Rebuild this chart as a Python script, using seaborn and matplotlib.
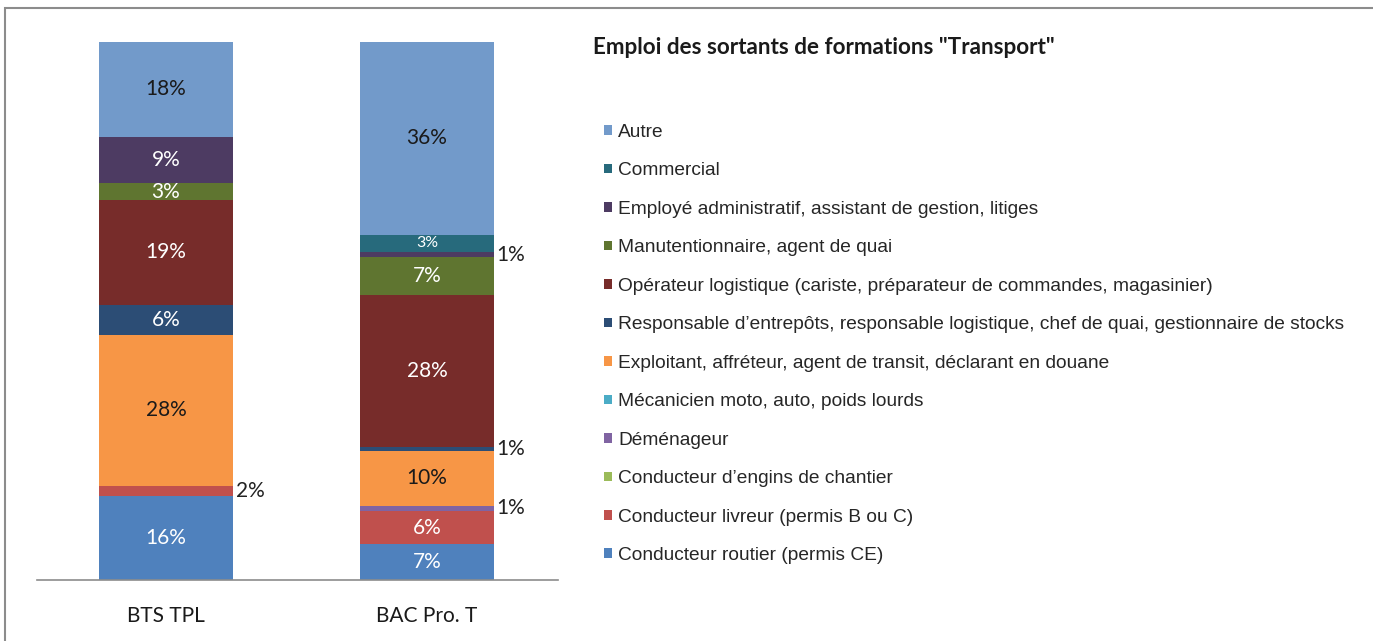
import numpy as np
import pandas as pd
import seaborn as sns
import matplotlib.pyplot as plt
from matplotlib.patches import Patch, Rectangle

# categories (bars) and job groups, stacked bottom -> top
formations = ['BTS TPL', 'BAC Pro. T']
jobs = ['Conducteur routier (permis CE)',
        'Conducteur livreur (permis B ou C)',
        'Conducteur d\u2019engins de chantier',
        'D\u00e9m\u00e9nageur',
        'M\u00e9canicien moto, auto, poids lourds',
        'Exploitant, affr\u00e9teur, agent de transit, d\u00e9clarant en douane',
        'Responsable d\u2019entrep\u00f4ts, responsable logistique, chef de quai, gestionnaire de stocks',
        'Op\u00e9rateur logistique (cariste, pr\u00e9parateur de commandes, magasinier)',
        'Manutentionnaire, agent de quai',
        'Employ\u00e9 administratif, assistant de gestion, litiges',
        'Commercial',
        'Autre']
bts_tpl = [15.6, 1.9, 0, 0, 0, 28.1, 5.6, 19.4, 3.2, 8.6, 0, 17.6]
bac_pro = [6.6, 6.3, 0, 0.9, 0, 10.2, 0.8, 28.1, 7.2, 0.8, 3.3, 35.8]
colors = ['#4F81BD', '#C0504D', '#9BBB59', '#8064A2', '#4BACC6', '#F79646',
          '#2C4D75', '#772C2A', '#5F7530', '#4D3B62', '#276A7C', '#729ACA']
dark_text = ['Autre', jobs[5]]

df = pd.DataFrame({'BTS TPL': bts_tpl, 'BAC Pro. T': bac_pro}, index=jobs)

sns.set_style('white')
plt.rcParams['font.family'] = ['Lato', 'DejaVu Sans']

fig = plt.figure(figsize=(13.73, 6.41), dpi=100)
ax = fig.add_axes([37 / 1373, 61 / 641, 521 / 1373, 538 / 641])

W = 0.513
bottom = np.zeros(len(formations))
for job, col in zip(jobs, colors):
    vals = df.loc[job, formations].values
    sns.barplot(x=formations, y=vals, bottom=bottom, color=col, width=W,
                errorbar=None, ax=ax, saturation=1, linewidth=0)
    for i, v in enumerate(vals):
        if v <= 0:
            continue
        mid = bottom[i] + v / 2
        lbl = f'{round(v)}%'
        if v < 2.5:
            ax.annotate(lbl, (i + W / 2, mid), xytext=(2, 0), textcoords='offset points',
                        ha='left', va='center', fontsize=15, color='#222222')
        else:
            fs = 11.5 if job == 'Commercial' else 15
            tc = '#1a1a1a' if job in dark_text else 'white'
            ax.text(i, mid, lbl, ha='center', va='center', fontsize=fs, color=tc)
    bottom = bottom + vals

ax.set_xlim(-0.494, 1.502)
ax.set_ylim(0, 100)
ax.set_yticks([])
ax.set_xlabel('')
ax.set_ylabel('')
sns.despine(ax=ax, left=True)
ax.spines['bottom'].set_color('#8c8c8c')
ax.spines['bottom'].set_linewidth(1.2)
ax.tick_params(axis='x', length=0, pad=19, labelsize=15, labelcolor='#1a1a1a')

fig.text(593 / 1373, 1 - 47 / 641, 'Emploi des sortants de formations "Transport"',
         fontsize=16.2, fontweight='bold', va='center', ha='left', color='#1a1a1a')

handles = [Patch(facecolor=c, edgecolor='none', label=j) for j, c in zip(jobs, colors)][::-1]
fig.legend(handles=handles, loc='upper left', bbox_to_anchor=(604 / 1373, 1 - 124 / 641),
           frameon=False, prop={'family': 'Liberation Sans', 'size': 13.8},
           handlelength=0.4, handleheight=0.4, handletextpad=0.35,
           labelspacing=1.12, borderpad=0, borderaxespad=0)

# outer frame (only top and left edges visible in the crop)
fig.patches.append(Rectangle((5 / 1373, -0.1), 1.2, 1 - 8 / 641 + 0.1,
                             transform=fig.transFigure, fill=False,
                             edgecolor='#8c8c8c', linewidth=1.5))

fig.savefig('out.png', dpi=100)
